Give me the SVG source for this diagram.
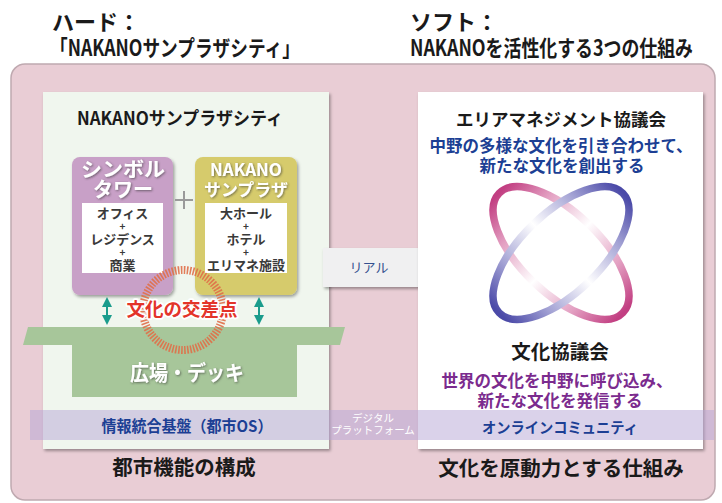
<svg xmlns="http://www.w3.org/2000/svg" width="722" height="503" viewBox="0 0 722 503">
  <defs>
    <style>
      text { font-family: "Noto Sans CJK JP", "Noto Sans", sans-serif; font-weight: bold; }
      .hdr { font-size: 22px; fill: #1a1a1a; }
      .ttl { font-size: 18px; fill: #1a1a1a; text-anchor: middle; }
      .cap { font-size: 20.5px; fill: #1a1a1a; text-anchor: middle; }
      .blue { font-size: 16.5px; fill: #1c3f94; text-anchor: middle; }
      .purp { font-size: 16.5px; fill: #7b2b8e; text-anchor: middle; }
      .boxhead { font-size: 20px; fill: #ffffff; text-anchor: middle; }
      .inner { font-size: 13px; fill: #3a3a3a; text-anchor: middle; }
      .plus { font-size: 10px; fill: #3a3a3a; text-anchor: middle; }
      .band { font-size: 16px; fill: #1c3f94; text-anchor: middle; }
      .small { font-size: 10.5px; fill: #ffffff; text-anchor: middle; font-weight: normal; }
    </style>
    <filter id="shadow" x="-10%" y="-10%" width="125%" height="125%">
      <feDropShadow dx="1.5" dy="2" stdDeviation="1.8" flood-color="#000" flood-opacity="0.35"/>
    </filter>
    <filter id="tshadow" x="-10%" y="-20%" width="130%" height="150%">
      <feDropShadow dx="1" dy="1" stdDeviation="0.8" flood-color="#333" flood-opacity="0.6"/>
    </filter>
    <marker id="tip" viewBox="0 0 10 10" refX="8" refY="5" markerWidth="5" markerHeight="5" orient="auto-start-reverse">
      <path d="M0,0 L10,5 L0,10 z" fill="#1a9c8c"/>
    </marker>
    <linearGradient id="ringPink" x1="0" y1="0" x2="1" y2="0">
      <stop offset="0" stop-color="#c23f82"/>
      <stop offset="0.22" stop-color="#e3a0c2"/>
      <stop offset="0.5" stop-color="#ffffff"/>
      <stop offset="0.78" stop-color="#e3a0c2"/>
      <stop offset="1" stop-color="#c23f82"/>
    </linearGradient>
    <linearGradient id="ringBlue" x1="0" y1="0" x2="1" y2="0">
      <stop offset="0" stop-color="#4b4aa8"/>
      <stop offset="0.22" stop-color="#a3a2d4"/>
      <stop offset="0.5" stop-color="#ffffff"/>
      <stop offset="0.78" stop-color="#a3a2d4"/>
      <stop offset="1" stop-color="#4b4aa8"/>
    </linearGradient>
  </defs>

  <rect width="722" height="503" fill="#ffffff"/>

  <!-- headings -->
  <g id="heading-hard">
    <text class="hdr" x="52" y="30">ハード：</text>
    <text class="hdr" x="50" y="56" textLength="250" lengthAdjust="spacingAndGlyphs">「NAKANOサンプラザシティ」</text>
  </g>
  <g id="heading-soft">
    <text class="hdr" x="410" y="30">ソフト：</text>
    <text class="hdr" x="410" y="56" textLength="283" lengthAdjust="spacingAndGlyphs">NAKANOを活性化する3つの仕組み</text>
  </g>

  <!-- outer frame -->
  <rect id="frame" x="11" y="64" width="704" height="436" rx="14" fill="#e9cdd5" stroke="#bfa9b0" stroke-width="1.5"/>

  <!-- left: urban structure -->
  <g id="city-panel">
    <rect x="43" y="92" width="286" height="357" fill="#f0f6ee" filter="url(#shadow)"/>
    <text class="ttl" x="180" y="125" textLength="206" lengthAdjust="spacingAndGlyphs">NAKANOサンプラザシティ</text>
  </g>

  <g id="symbol-tower">
    <rect x="72" y="157" width="101" height="138" rx="8" fill="#c8a0c7" filter="url(#shadow)"/>
    <g filter="url(#tshadow)">
      <text class="boxhead" x="123" y="177" textLength="84" lengthAdjust="spacingAndGlyphs">シンボル</text>
      <text class="boxhead" x="123" y="197">タワー</text>
    </g>
    <rect x="82" y="203" width="81" height="70" fill="#ffffff"/>
    <text class="inner" x="122.5" y="218">オフィス</text>
    <text class="plus" x="122.5" y="230">+</text>
    <text class="inner" x="122.5" y="244">レジデンス</text>
    <text class="plus" x="122.5" y="256">+</text>
    <text class="inner" x="122.5" y="270">商業</text>
  </g>

  <g id="plus-sign">
    <path d="M175,200 H193 M184,191 V209" stroke="#9a9a9a" stroke-width="2" fill="none"/>
  </g>

  <g id="nakano-sunplaza">
    <rect x="195" y="157" width="102" height="138" rx="8" fill="#d6cb6c" filter="url(#shadow)"/>
    <g filter="url(#tshadow)">
      <text class="boxhead" x="246" y="176" style="font-size:17px" textLength="72" lengthAdjust="spacingAndGlyphs">NAKANO</text>
      <text class="boxhead" x="246" y="196" style="font-size:17px" textLength="84" lengthAdjust="spacingAndGlyphs">サンプラザ</text>
    </g>
    <rect x="205" y="203" width="82" height="70" fill="#ffffff"/>
    <text class="inner" x="246" y="218">大ホール</text>
    <text class="plus" x="246" y="230">+</text>
    <text class="inner" x="246" y="244">ホテル</text>
    <text class="plus" x="246" y="256">+</text>
    <text class="inner" x="246" y="270">エリマネ施設</text>
  </g>

  <g id="plaza-deck">
    <path d="M28,327 L345,327 L340,345 L297,345 L297,397 L72,397 L72,345 L23,345 Z" fill="#a7c69a"/>
    <text x="187" y="380" style="font-size:21px;fill:#ffffff;text-anchor:middle" textLength="114" lengthAdjust="spacingAndGlyphs" filter="url(#tshadow)">広場・デッキ</text>
  </g>

  <g id="cultural-crossroads">
    <circle cx="183" cy="310" r="40" fill="none" stroke="#e06f48" stroke-width="8" stroke-dasharray="1.6 1.4" opacity="0.9"/>
    <text x="182" y="316" style="font-size:18.5px;fill:#e3342a;text-anchor:middle;stroke:#ffffff;stroke-width:3.5px;paint-order:stroke;stroke-linejoin:round">文化の交差点</text>
  </g>

  <!-- link between the two sides -->
  <g id="real-link">
    <rect x="323" y="248" width="96" height="39" fill="#f0f0f1" filter="url(#shadow)"/>
    <text x="369" y="272" style="font-size:13px;fill:#35508f;text-anchor:middle;font-weight:normal">リアル</text>
  </g>

  <!-- right: culture-driven mechanism -->
  <g id="culture-panel">
    <rect x="418" y="92" width="285" height="357" fill="#ffffff" filter="url(#shadow)"/>
    <text class="ttl" x="561" y="126" style="font-size:17.5px">エリアマネジメント協議会</text>
    <text class="blue" x="561" y="152">中野の多様な文化を引き合わせて、</text>
    <text class="blue" x="562" y="172">新たな文化を創出する</text>
  </g>

  <g id="logo">
    <ellipse cx="0" cy="0" rx="86" ry="40" fill="none" stroke="url(#ringPink)" stroke-width="7.5" transform="translate(561 253) rotate(44)"/>
    <ellipse cx="0" cy="0" rx="86" ry="40" fill="none" stroke="url(#ringBlue)" stroke-width="7.5" transform="translate(561 253) rotate(-44)"/>
  </g>

  <g id="culture-council">
    <text class="ttl" x="560" y="359" style="font-size:19.5px">文化協議会</text>
    <text class="purp" x="557" y="387">世界の文化を中野に呼び込み、</text>
    <text class="purp" x="560" y="407">新たな文化を発信する</text>
  </g>

  <!-- digital platform band -->
  <g id="digital-platform">
    <rect x="30" y="410" width="684" height="30" fill="#b6a6d6" opacity="0.5"/>
    <text class="band" x="187" y="432" textLength="171" lengthAdjust="spacingAndGlyphs">情報統合基盤（都市OS）</text>
    <text class="small" x="373" y="422">デジタル</text>
    <text class="small" x="373" y="434">プラットフォーム</text>
    <text class="band" x="560" y="433" style="font-size:15px" textLength="156" lengthAdjust="spacingAndGlyphs">オンラインコミュニティ</text>
  </g>

  <g id="captions">
    <text class="cap" x="184" y="475">都市機能の構成</text>
    <text class="cap" x="561" y="476">文化を原動力とする仕組み</text>
  </g>

  <!-- connectors -->
  <g id="connectors" stroke="#1a9c8c" stroke-width="2" fill="none">
    <line x1="107" y1="299" x2="107" y2="323" marker-start="url(#tip)" marker-end="url(#tip)"/>
    <line x1="259" y1="299" x2="259" y2="323" marker-start="url(#tip)" marker-end="url(#tip)"/>
  </g>
</svg>
